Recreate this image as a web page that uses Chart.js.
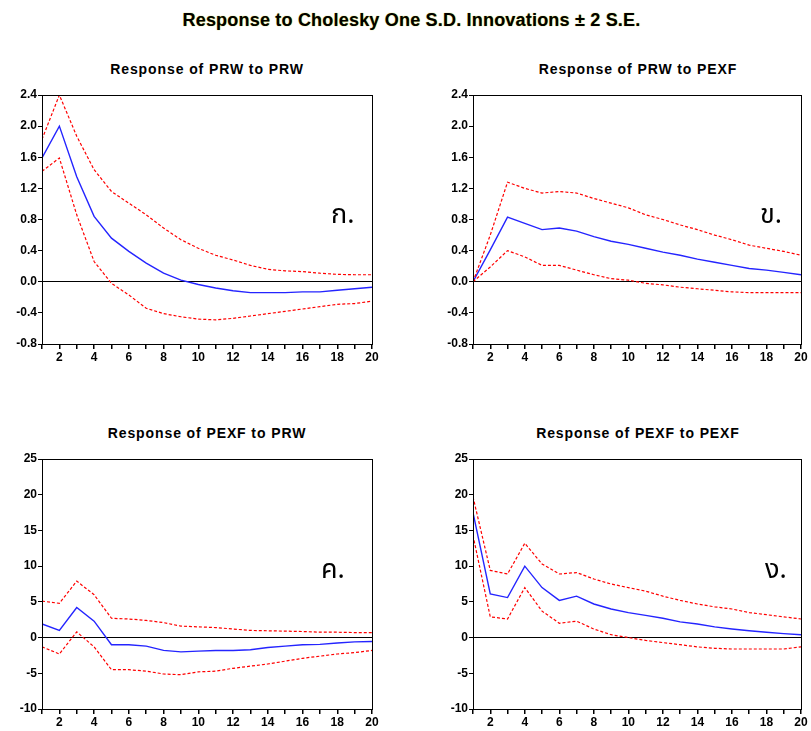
<!DOCTYPE html>
<html lang="en">
<head>
  <meta charset="UTF-8">
  <title>Response to Cholesky One S.D. Innovations</title>
  <style>
    body { margin: 0; background: #fff; width: 811px; height: 731px; position: relative; overflow: hidden; }
    .box { position: absolute; }
    .titulo {
      position: absolute; left: 0; width: 811px; top: 10px; text-align: center;
      font: bold 18px "Liberation Sans", Arial, sans-serif; color: #000; letter-spacing: 0.2px;
      text-shadow: 0 0 1px #b8b800;
      padding-left: 12px; box-sizing: border-box;
    }
    .sub {
      position: absolute; width: 330px; text-align: center;
      font: bold 14px "Liberation Sans", Arial, sans-serif; color: #000; letter-spacing: 0.9px;
    }
    .thai {
      position: absolute; font: 27px "Noto Sans Thai", "DejaVu Sans", "Noto Sans", sans-serif; color: #000;
    }
  </style>
</head>
<body>
  <div class="titulo">Response to Cholesky One S.D. Innovations &plusmn; 2 S.E.</div>

  <div class="sub" style="left:42px; top:61px;">Response of PRW to PRW</div>
  <div class="sub" style="left:473px; top:61px;">Response of PRW to PEXF</div>
  <div class="sub" style="left:42px; top:425px;">Response of PEXF to PRW</div>
  <div class="sub" style="left:473px; top:425px;">Response of PEXF to PEXF</div>

  <div class="box" style="left:0; top:85px; width:400px; height:285px;"><canvas id="c1"></canvas></div>
  <div class="box" style="left:410px; top:85px; width:400px; height:285px;"><canvas id="c2"></canvas></div>
  <div class="box" style="left:0; top:449px; width:400px; height:286px;"><canvas id="c3"></canvas></div>
  <div class="box" style="left:410px; top:449px; width:400px; height:286px;"><canvas id="c4"></canvas></div>

  <div class="thai" style="left:331px; top:194px;">ก.</div>
  <div class="thai" style="left:760px; top:194px;">ข.</div>
  <div class="thai" style="left:321px; top:549px;">ค.</div>
  <div class="thai" style="left:765px; top:549px;">ง.</div>

  <script src="https://cdn.jsdelivr.net/npm/chart.js"></script>
  <script>
    // periodos 1..20
    const periodos = [1,2,3,4,5,6,7,8,9,10,11,12,13,14,15,16,17,18,19,20];

    // PRW -> PRW
    const prwPrw     = [1.59,2.0,1.35,0.84,0.56,0.39,0.24,0.11,0.02,-0.035,-0.08,-0.115,-0.14,-0.14,-0.14,-0.13,-0.13,-0.11,-0.09,-0.07];
    const prwPrwSup  = [1.83,2.4,1.87,1.44,1.16,1.01,0.86,0.69,0.54,0.43,0.34,0.28,0.21,0.16,0.14,0.13,0.11,0.095,0.09,0.09];
    const prwPrwInf  = [1.42,1.59,0.86,0.26,-0.02,-0.17,-0.34,-0.41,-0.45,-0.48,-0.49,-0.47,-0.44,-0.41,-0.38,-0.35,-0.32,-0.29,-0.28,-0.25];

    // PRW -> PEXF
    const prwPexf    = [0,0.41,0.83,0.75,0.67,0.69,0.65,0.58,0.52,0.48,0.43,0.38,0.34,0.29,0.25,0.21,0.17,0.15,0.12,0.09];
    const prwPexfSup = [0,0.6,1.28,1.2,1.14,1.16,1.14,1.07,1.01,0.95,0.86,0.8,0.73,0.67,0.6,0.54,0.47,0.43,0.39,0.34];
    const prwPexfInf = [0,0.19,0.4,0.32,0.21,0.21,0.15,0.09,0.04,0.02,-0.02,-0.04,-0.07,-0.09,-0.11,-0.13,-0.14,-0.14,-0.14,-0.14];

    // PEXF -> PRW
    const pexfPrw    = [1.9,1.0,4.2,2.3,-1.0,-1.0,-1.2,-1.8,-2.0,-1.9,-1.8,-1.8,-1.7,-1.4,-1.2,-1.0,-0.95,-0.75,-0.6,-0.55];
    const pexfPrwSup = [5.1,4.8,7.9,6.0,2.7,2.6,2.4,2.1,1.6,1.5,1.4,1.2,1.0,0.95,0.9,0.85,0.75,0.75,0.7,0.7];
    const pexfPrwInf = [-1.3,-2.3,0.8,-1.3,-4.5,-4.5,-4.7,-5.1,-5.2,-4.8,-4.7,-4.3,-4.0,-3.7,-3.3,-2.9,-2.6,-2.3,-2.1,-1.8];

    // PEXF -> PEXF
    const pexfPexf    = [17.5,6.1,5.6,10.0,7.0,5.2,5.8,4.7,4.0,3.5,3.1,2.7,2.2,1.9,1.5,1.2,0.95,0.75,0.55,0.4];
    const pexfPexfSup = [19.7,9.4,8.9,13.2,10.3,8.9,9.1,8.2,7.5,7.0,6.5,5.8,5.2,4.7,4.3,4.0,3.5,3.2,2.9,2.6];
    const pexfPexfInf = [14.3,2.9,2.6,7.0,3.7,2.0,2.3,1.2,0.4,0.0,-0.4,-0.7,-1.0,-1.3,-1.5,-1.6,-1.6,-1.6,-1.6,-1.3];

    // rotulos do eixo Y
    const ticksPrw  = [-0.8,-0.4,0.0,0.4,0.8,1.2,1.6,2.0,2.4];
    const ticksPexf = [-10,-5,0,5,10,15,20,25];

    const fonte = { family: '"Liberation Sans", Arial, sans-serif', size: 12, weight: 'bold' };

    // moldura em volta da area do grafico
    const moldura = {
      id: 'moldura',
      afterDraw(chart) {
        const a = chart.chartArea, c = chart.ctx;
        c.save();
        c.strokeStyle = '#000';
        c.lineWidth = 1;
        c.strokeRect(Math.round(a.left) + 0.5, Math.round(a.top) + 0.5,
                     Math.round(a.right - a.left), Math.round(a.bottom - a.top));
        c.restore();
      }
    };

    function pontos(vals) {
      return periodos.map((p, i) => ({ x: p, y: vals[i] }));
    }

    function grafico(id, centro, sup, inf, ticks, decimais, padLeft, padRight) {
      const ctx = document.getElementById(id).getContext('2d');
      return new Chart(ctx, {
        type: 'line',
        data: {
          datasets: [
            { data: pontos(sup), borderColor: '#ff0000', borderWidth: 1.2, borderDash: [3, 2] },
            { data: pontos(inf), borderColor: '#ff0000', borderWidth: 1.2, borderDash: [3, 2] },
            { data: pontos(centro), borderColor: '#2424ff', borderWidth: 1.4 }
          ]
        },
        options: {
          responsive: true,
          maintainAspectRatio: false,
          animation: false,
          elements: { point: { radius: 0 }, line: { tension: 0 } },
          layout: { padding: { left: padLeft, right: padRight, top: 10, bottom: 0 } },
          plugins: { legend: { display: false }, tooltip: { enabled: false } },
          scales: {
            x: {
              type: 'linear', min: 1, max: 20,
              afterFit: s => { s.height = 26; },
              border: { display: false },
              grid: { drawOnChartArea: false, tickLength: 5, color: '#000', tickColor: '#000', lineWidth: 1.5 },
              ticks: {
                stepSize: 1, autoSkip: false, maxRotation: 0, padding: 1, color: '#000', font: fonte,
                callback: v => (v % 2 === 0 ? String(v) : '')
              }
            },
            y: {
              min: ticks[0], max: ticks[ticks.length - 1],
              afterFit: s => { s.width = 42; },
              afterBuildTicks: s => { s.ticks = ticks.map(v => ({ value: v })); },
              border: { display: false },
              grid: {
                tickLength: 4, tickColor: '#000',
                color: c => (c.tick && Math.abs(c.tick.value) < 1e-9 ? '#000' : 'rgba(0,0,0,0)')
              },
              ticks: {
                padding: 1, color: '#000', font: fonte,
                callback: v => v.toFixed(decimais)
              }
            }
          }
        },
        plugins: [moldura]
      });
    }

    window.onload = function () {
      grafico('c1', prwPrw, prwPrwSup, prwPrwInf, ticksPrw, 1, 0, 28);
      grafico('c2', prwPexf, prwPexfSup, prwPexfInf, ticksPrw, 1, 21, 9);
      grafico('c3', pexfPrw, pexfPrwSup, pexfPrwInf, ticksPexf, 0, 0, 28);
      grafico('c4', pexfPexf, pexfPexfSup, pexfPexfInf, ticksPexf, 0, 21, 9);
    };
  </script>
</body>
</html>
